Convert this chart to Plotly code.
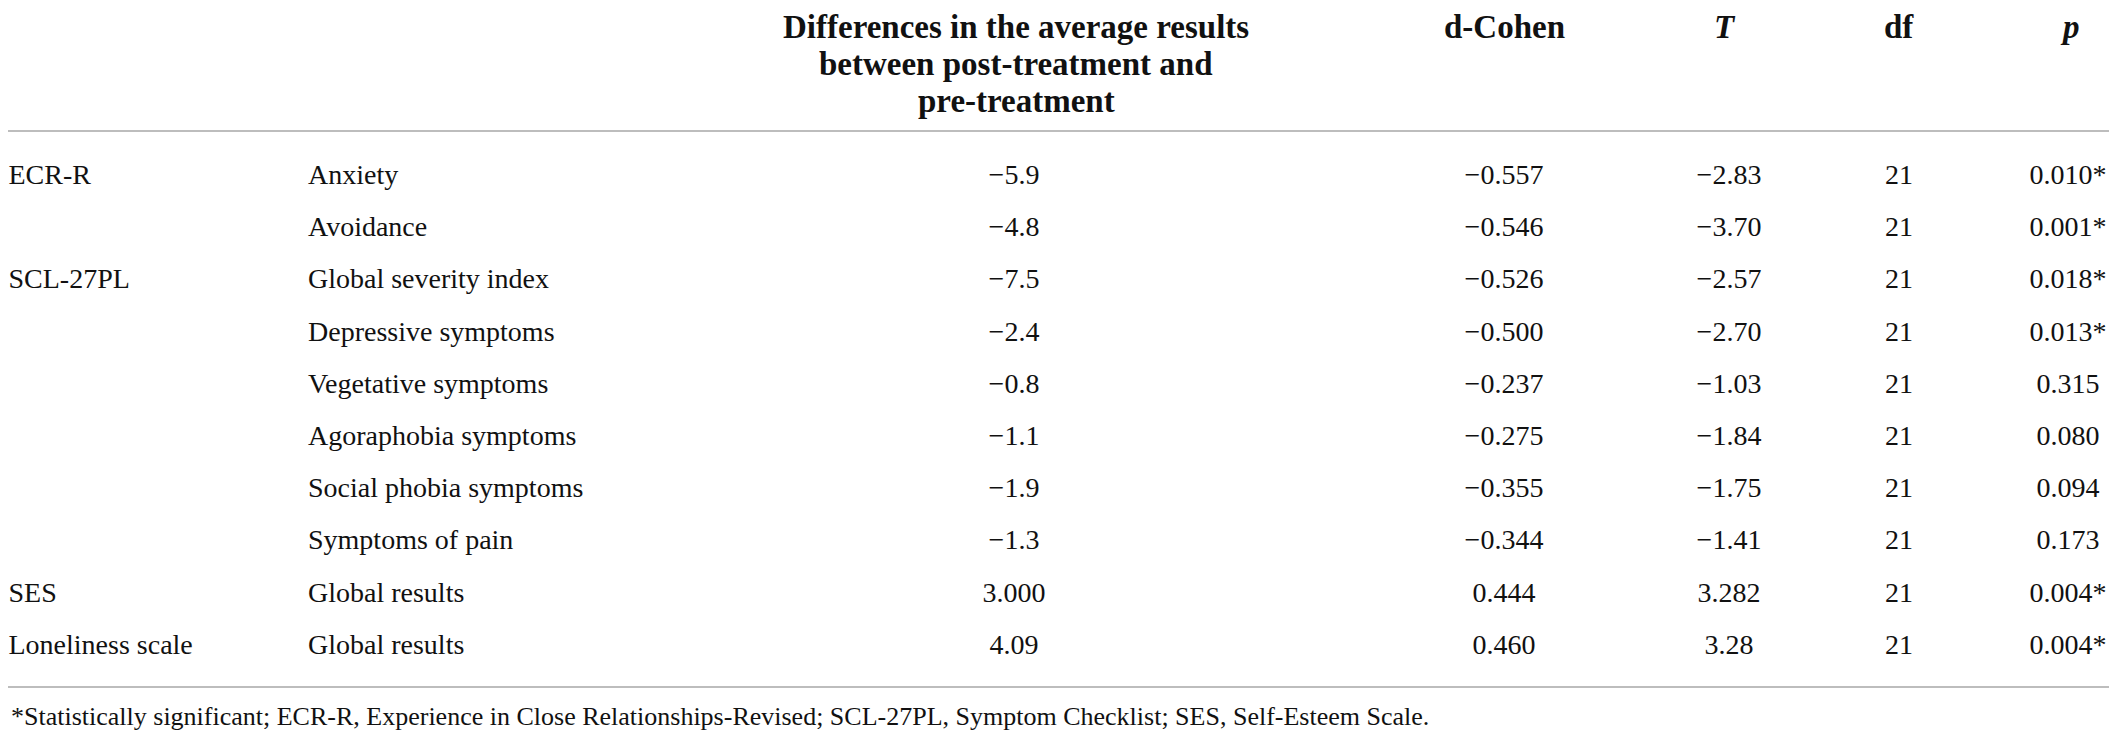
import plotly.graph_objects as go

# table content
scales = ["ECR-R", "", "SCL-27PL", "", "", "", "", "", "SES", "Loneliness scale"]
subscales = ["Anxiety", "Avoidance", "Global severity index", "Depressive symptoms",
             "Vegetative symptoms", "Agoraphobia symptoms", "Social phobia symptoms",
             "Symptoms of pain", "Global results", "Global results"]
diffs = ["−5.9", "−4.8", "−7.5", "−2.4", "−0.8", "−1.1", "−1.9", "−1.3", "3.000", "4.09"]
d_cohen = ["−0.557", "−0.546", "−0.526", "−0.500", "−0.237", "−0.275", "−0.355",
           "−0.344", "0.444", "0.460"]
t_vals = ["−2.83", "−3.70", "−2.57", "−2.70", "−1.03", "−1.84", "−1.75", "−1.41",
          "3.282", "3.28"]
df_vals = ["21", "21", "21", "21", "21", "21", "21", "21", "21", "21"]
p_vals = ["0.010*", "0.001*", "0.018*", "0.013*", "0.315", "0.080", "0.094", "0.173",
          "0.004*", "0.004*"]

header_diff = ["Differences in the average results", "between post-treatment and",
               "pre-treatment"]
footnote = ("*Statistically significant; ECR-R, Experience in Close Relationships-Revised; "
            "SCL-27PL, Symptom Checklist; SES, Self-Esteem Scale.")

# the page body keeps its default 8px margin, so the figure is a bit smaller
# than the window and x/y below are given in window pixels
OFF = 8
W, H = 2117 - 2 * OFF, 741 - 2 * OFF
FONT = "Liberation Serif"
rows = list(range(len(subscales)))

# row pitch in pixels and first row centre (window pixels)
pitch, first = 52.2, 177
span = H / pitch
y_top = -(first - OFF) / pitch

fig = go.Figure()


def col(values, xpos, pos):
    fig.add_trace(go.Scatter(
        x=[xpos] * len(values), y=rows, text=values, mode="text",
        textposition=pos, textfont=dict(family=FONT, size=28, color="#111"),
        cliponaxis=False, hoverinfo="skip", showlegend=False))


col(scales, OFF + 0.5, "middle right")
col(subscales, 308, "middle right")
col(diffs, 1014, "middle center")
col(d_cohen, 1504, "middle center")
col(t_vals, 1729, "middle center")
col(df_vals, 1899, "middle center")
col(p_vals, 2068, "middle center")


def py(px):
    return 1 - (px - OFF) / H


ann = []
for i, line in enumerate(header_diff):
    ann.append(dict(text="<b>" + line + "</b>", x=1016, y=py(27 + 37 * i)))
ann.append(dict(text="<b>d-Cohen</b>", x=1504, y=py(27)))
ann.append(dict(text="<b><i>T</i></b>", x=1725, y=py(27)))
ann.append(dict(text="<b>df</b>", x=1899, y=py(27)))
ann.append(dict(text="<b><i>p</i></b>", x=2070, y=py(27)))
for a in ann:
    a.update(xref="x", yref="paper", showarrow=False, xanchor="center", yanchor="middle",
             borderpad=0, font=dict(family=FONT, size=33, color="#111"))
ann.append(dict(text=footnote, x=OFF + 1, y=py(716), xref="x", yref="paper",
                showarrow=False, xanchor="left", yanchor="middle",
                font=dict(family=FONT, size=26, color="#111")))

shapes = [dict(type="line", xref="x", yref="paper", x0=OFF, x1=OFF + W, y0=py(yy), y1=py(yy),
               line=dict(color="#bdbdbd", width=2)) for yy in (131, 687)]

fig.update_layout(
    width=W, height=H, autosize=False,
    margin=dict(l=0, r=0, t=0, b=0),
    paper_bgcolor="white", plot_bgcolor="white",
    xaxis=dict(range=[OFF, OFF + W], visible=False, fixedrange=True),
    yaxis=dict(range=[y_top + span, y_top], visible=False, fixedrange=True),
    annotations=ann, shapes=shapes,
)

fig.write_html("out.html")
